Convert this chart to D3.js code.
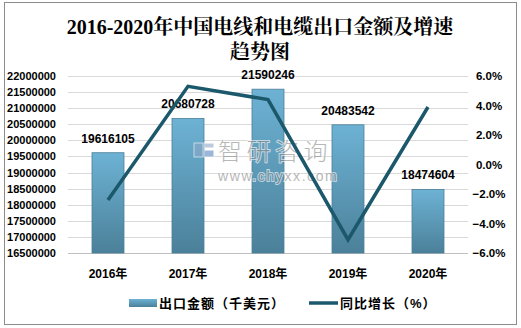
<!DOCTYPE html>
<html><head><meta charset="utf-8">
<script src="https://cdn.jsdelivr.net/npm/d3@7"></script>
<style>body{margin:0;background:#fff}svg{display:block}</style>
</head><body>
<svg id="chart" width="521" height="328"></svg>
<script>
// Export value and year-on-year growth of Chinese wire and cable
const years = ["2016年", "2017年", "2018年", "2019年", "2020年"];
const exportValue = [19616105, 20680728, 21590246, 20483542, 18474604];
const growth = [-2.4, 5.3, 4.4, -5.1, 3.9];
const leftTicks = [16500000,17000000,17500000,18000000,18500000,19000000,19500000,20000000,20500000,21000000,21500000,22000000];
const rightTicks = [-6, -4, -2, 0, 2, 4, 6];

const svg = d3.select("#chart");
const plot = {left: 68, right: 468, top: 76, bottom: 253};

// outer frame
svg.append("rect").attr("x", 4.5).attr("y", 2.5).attr("width", 512).attr("height", 322)
  .attr("fill", "#fff").attr("stroke", "#8c8c8c").attr("stroke-width", 1);

const defs = svg.append("defs");
const grad = defs.append("linearGradient").attr("id", "barGrad").attr("x1", 0).attr("y1", 0).attr("x2", 0).attr("y2", 1);
grad.append("stop").attr("offset", "0%").attr("stop-color", "#6db2d4");
grad.append("stop").attr("offset", "100%").attr("stop-color", "#4b8099");

// title
const title = svg.append("text").attr("text-anchor", "middle")
  .attr("font-family", "'Liberation Serif','Noto Serif CJK SC','Noto Sans CJK SC',serif")
  .attr("font-weight", "bold").attr("font-size", 20).attr("fill", "#000");
title.append("tspan").attr("x", 260).attr("y", 34).text("2016-2020年中国电线和电缆出口金额及增速");
title.append("tspan").attr("x", 260).attr("y", 59).text("趋势图");

const x = d3.scaleBand().domain(years).range([plot.left, plot.right]).paddingInner(0.6).paddingOuter(0.3);
const yL = d3.scaleLinear().domain([16500000, 22000000]).range([plot.bottom, plot.top]);
const yR = d3.scaleLinear().domain([-6, 6]).range([plot.bottom, plot.top]);

// gridlines
svg.append("g").selectAll("line").data(leftTicks).join("line")
  .attr("x1", plot.left).attr("x2", plot.right)
  .attr("y1", d => Math.round(yL(d)) + 0.5).attr("y2", d => Math.round(yL(d)) + 0.5)
  .attr("stroke", d => d === 16500000 ? "#bfbfbf" : "#d9d9d9").attr("stroke-width", 1);

const font = "'Liberation Sans','Noto Sans CJK SC',sans-serif";

// left axis
const axL = svg.append("g").attr("transform", `translate(56,0)`)
  .call(d3.axisLeft(yL).tickValues(leftTicks).tickFormat(d3.format("d")).tickSize(0).tickPadding(0));
axL.select(".domain").remove();
axL.selectAll("text").attr("font-family", font).attr("font-weight", "bold").attr("font-size", 11).attr("fill", "#000");

// right axis
const axR = svg.append("g").attr("transform", `translate(489,0)`)
  .call(d3.axisRight(yR).tickValues(rightTicks).tickFormat(d => d3.format(".1f")(d) + "%").tickSize(0).tickPadding(0));
axR.select(".domain").remove();
axR.selectAll("text").attr("text-anchor", "middle").attr("font-family", font).attr("font-weight", "bold").attr("font-size", 11.5).attr("fill", "#000");

// x axis labels
svg.append("g").selectAll("text").data(years).join("text")
  .attr("x", d => x(d) + x.bandwidth() / 2).attr("y", 278).attr("text-anchor", "middle")
  .attr("font-family", font).attr("font-weight", "bold").attr("font-size", 12).attr("fill", "#000").text(d => d);

// bars
svg.append("g").selectAll("rect").data(exportValue).join("rect")
  .attr("x", (d, i) => x(years[i])).attr("width", x.bandwidth())
  .attr("y", d => yL(d)).attr("height", d => plot.bottom - yL(d))
  .attr("fill", "url(#barGrad)").attr("stroke", "#4a7f98").attr("stroke-width", 0.8);

// bar value labels
svg.append("g").selectAll("text").data(exportValue).join("text")
  .attr("x", (d, i) => x(years[i]) + x.bandwidth() / 2).attr("y", d => yL(d) - 10)
  .attr("text-anchor", "middle").attr("font-family", font).attr("font-weight", "bold")
  .attr("font-size", 12).attr("fill", "#000").text(d => d);

// watermark
const wm = svg.append("g").attr("opacity", 0.6);
wm.append("rect").attr("x", 194).attr("y", 143).attr("width", 9).attr("height", 14).attr("fill", "#8fa8c8").attr("stroke", "#fff").attr("stroke-width", 1);
wm.append("rect").attr("x", 204).attr("y", 143).attr("width", 10).attr("height", 5).attr("fill", "#8fa8c8").attr("stroke", "#fff").attr("stroke-width", 1);
wm.append("rect").attr("x", 204).attr("y", 150).attr("width", 10).attr("height", 7).attr("fill", "#5b86c0").attr("stroke", "#fff").attr("stroke-width", 1);
wm.append("text").attr("x", 218).attr("y", 160).attr("font-family", "'Noto Sans CJK SC',sans-serif").attr("font-weight", 300)
  .attr("font-size", 24).attr("letter-spacing", 4.5).attr("fill", "#8a8a8a")
  .attr("stroke", "#fff").attr("stroke-width", 2).attr("paint-order", "stroke").text("智研咨询");
wm.append("text").attr("x", 218).attr("y", 181).attr("font-family", font).attr("font-size", 14)
  .attr("letter-spacing", 1.6).attr("fill", "#8a8a8a")
  .attr("stroke", "#fff").attr("stroke-width", 2).attr("paint-order", "stroke").text("www.chyxx.com");

// growth line
const line = d3.line().x((d, i) => x(years[i]) + x.bandwidth() / 2).y(d => yR(d));
svg.append("path").datum(growth).attr("d", line).attr("fill", "none")
  .attr("stroke", "#1b586b").attr("stroke-width", 3.5).attr("stroke-linejoin", "miter");

// legend
const lg = svg.append("g");
lg.append("rect").attr("x", 129).attr("y", 299).attr("width", 28).attr("height", 8).attr("fill", "url(#barGrad)");
lg.append("text").attr("x", 159).attr("y", 308).attr("font-family", font).attr("font-weight", "bold").attr("font-size", 13).attr("letter-spacing", 1).text("出口金额（千美元）");
lg.append("line").attr("x1", 309).attr("x2", 338).attr("y1", 303).attr("y2", 303).attr("stroke", "#1b586b").attr("stroke-width", 3.5);
lg.append("text").attr("x", 340).attr("y", 308).attr("font-family", font).attr("font-weight", "bold").attr("font-size", 13).attr("letter-spacing", 1).text("同比增长（%）");
</script>
</body></html>
